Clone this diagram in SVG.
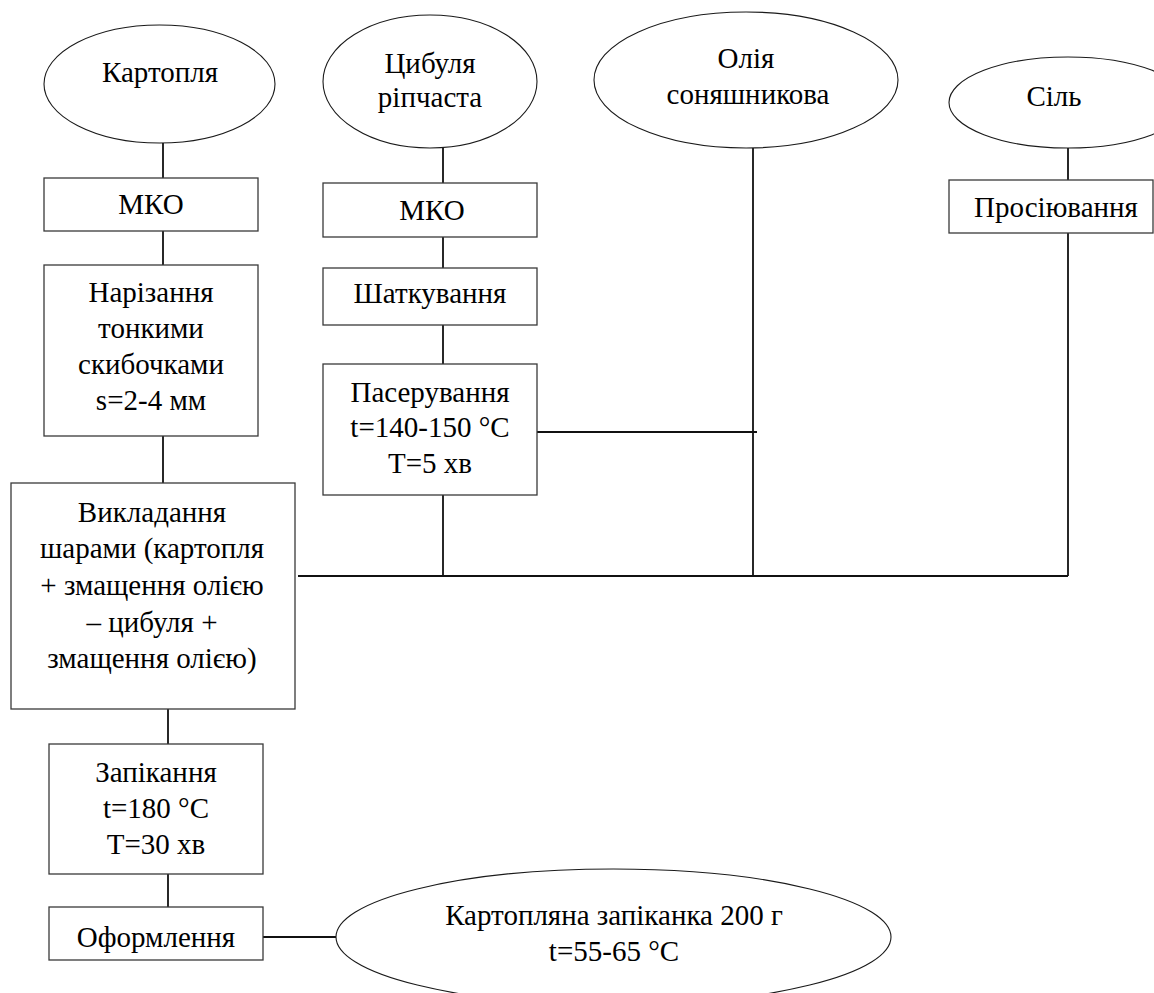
<svg xmlns="http://www.w3.org/2000/svg" width="1154" height="993" viewBox="0 0 1154 993">
<style>
.bg{fill:#ffffff}
.box{fill:#ffffff;stroke:#3a3a3a;stroke-width:1.3}
.ell{fill:#ffffff;stroke:#1a1a1a;stroke-width:1.1}
.ln{stroke:#111111;stroke-width:1.8;fill:none}
.t{font-family:'Liberation Serif','DejaVu Serif','Noto Serif',serif;font-size:29px;fill:#000000;text-anchor:middle}
</style>
<rect class="bg" x="0" y="0" width="1154" height="993"/>
<g id="connectors">
<line class="ln" x1="163" y1="143" x2="163" y2="178"/>
<line class="ln" x1="163" y1="231" x2="163" y2="265"/>
<line class="ln" x1="163" y1="436" x2="163" y2="483"/>
<line class="ln" x1="168" y1="709" x2="168" y2="744"/>
<line class="ln" x1="168" y1="874" x2="168" y2="907"/>
<line class="ln" x1="263" y1="937" x2="336" y2="937"/>
<line class="ln" x1="443" y1="148" x2="443" y2="183"/>
<line class="ln" x1="443" y1="237" x2="443" y2="268"/>
<line class="ln" x1="443" y1="325" x2="443" y2="364"/>
<line class="ln" x1="443" y1="495" x2="443" y2="576"/>
<line class="ln" x1="537" y1="432" x2="757" y2="432"/>
<line class="ln" x1="753" y1="148" x2="753" y2="576"/>
<line class="ln" x1="1068" y1="148" x2="1068" y2="180"/>
<line class="ln" x1="1068" y1="233" x2="1068" y2="576"/>
<line class="ln" x1="298" y1="576" x2="1068" y2="576"/>
</g>
<g id="kartoplia">
<ellipse class="ell" cx="159.5" cy="84" rx="115.5" ry="59"/>
<text class="t" x="160" y="82">Картопля</text>
</g>
<g id="mko1">
<rect class="box" x="44" y="178" width="214" height="53"/>
<text class="t" x="151" y="214">МКО</text>
</g>
<g id="narizannia">
<rect class="box" x="44" y="265" width="214" height="171"/>
<text class="t" x="151" y="302">Нарізання</text>
<text class="t" x="151" y="338">тонкими</text>
<text class="t" x="151" y="374">скибочками</text>
<text class="t" x="151" y="410">s=2-4 мм</text>
</g>
<g id="vykladannia">
<rect class="box" x="11" y="483" width="284" height="226"/>
<text class="t" x="152" y="522">Викладання</text>
<text class="t" x="152" y="558">шарами (картопля</text>
<text class="t" x="152" y="595">+ змащення олією</text>
<text class="t" x="152" y="632">– цибуля +</text>
<text class="t" x="152" y="668">змащення олією)</text>
</g>
<g id="zapikannia">
<rect class="box" x="49" y="744" width="214" height="130"/>
<text class="t" x="156" y="782">Запікання</text>
<text class="t" x="156" y="818">t=180 °C</text>
<text class="t" x="156" y="854">T=30 хв</text>
</g>
<g id="oformlennia">
<rect class="box" x="49" y="907" width="214" height="53"/>
<text class="t" x="156" y="947">Оформлення</text>
</g>
<g id="result">
<ellipse class="ell" cx="613.5" cy="937" rx="277.5" ry="68"/>
<text class="t" x="614" y="925">Картопляна запіканка 200 г</text>
<text class="t" x="614" y="961">t=55-65 °C</text>
</g>
<g id="tsybulia">
<ellipse class="ell" cx="430" cy="81.5" rx="107" ry="66.5"/>
<text class="t" x="430" y="73">Цибуля</text>
<text class="t" x="430" y="107">ріпчаста</text>
</g>
<g id="mko2">
<rect class="box" x="323" y="183" width="214" height="54"/>
<text class="t" x="432" y="220">МКО</text>
</g>
<g id="shatkuvannia">
<rect class="box" x="323" y="268" width="214" height="57"/>
<text class="t" x="430" y="303">Шаткування</text>
</g>
<g id="paseruvannia">
<rect class="box" x="323" y="364" width="214" height="131"/>
<text class="t" x="430" y="402">Пасерування</text>
<text class="t" x="430" y="437">t=140-150 °C</text>
<text class="t" x="430" y="473">T=5 хв</text>
</g>
<g id="oliia">
<ellipse class="ell" cx="746" cy="80" rx="152" ry="68"/>
<text class="t" x="746" y="68">Олія</text>
<text class="t" x="748" y="104">соняшникова</text>
</g>
<g id="sil">
<ellipse class="ell" cx="1068" cy="102.5" rx="119" ry="45.5"/>
<text class="t" x="1054" y="106">Сіль</text>
</g>
<g id="prosiiuvannia">
<rect class="box" x="949" y="180" width="204" height="53"/>
<text class="t" x="1056" y="217">Просіювання</text>
</g>
</svg>
